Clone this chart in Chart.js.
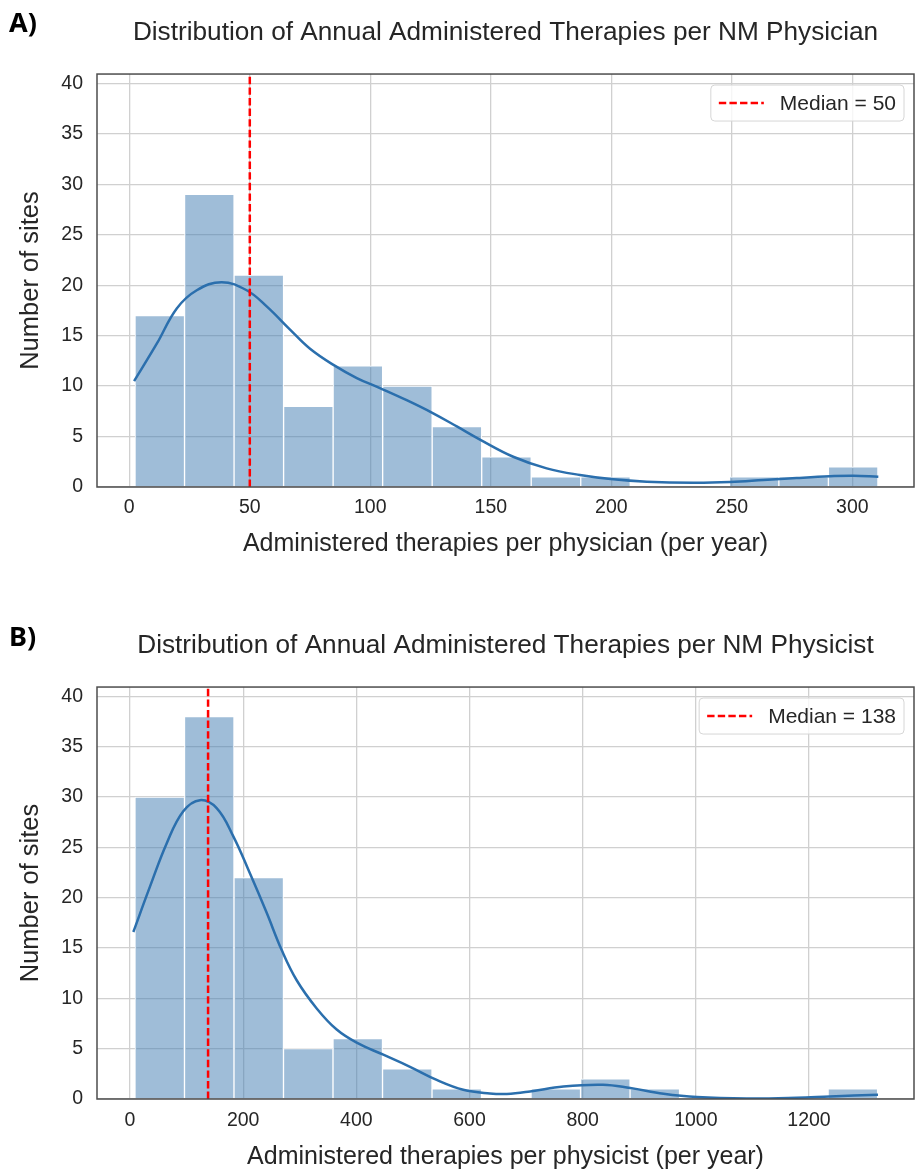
<!DOCTYPE html>
<html>
<head>
<meta charset="utf-8">
<script src="https://cdn.jsdelivr.net/npm/chart.js@4.4.1/dist/chart.umd.min.js"></script>
<style>
  body { margin: 0; background: #ffffff; }
  #pagina { position: relative; width: 915px; height: 1173px; overflow: hidden; }
  .painel { position: absolute; left: 0; }
  .letra { position: absolute; left: 9px; z-index: 2; font: bold 27px 'Noto Sans', sans-serif; color: #000; }
</style>
</head>
<body>
<div id="pagina">
  <canvas id="chartA" class="painel" width="915" height="580" style="top:0"></canvas>
  <canvas id="chartB" class="painel" width="915" height="573" style="top:600px"></canvas>
  <div class="letra" style="top:3px">A)</div>
  <div class="letra" style="top:617px">B)</div>
</div>
<script>
const bordasA = [2.4, 22.9, 43.5, 64.0, 84.6, 105.1, 125.7, 146.2, 166.8, 187.3, 207.9, 228.4, 249.0, 269.5, 290.1, 310.6];
const contagensA = [17, 29, 21, 8, 12, 10, 6, 3, 1, 1, 0, 0, 1, 1, 2];
const kdeXA = [2.0, 11.4, 19.7, 28.0, 38.3, 48.7, 57.0, 66.7, 75.0, 84.7, 94.4, 104, 115.1, 126.1, 135.9, 145.5, 159.3, 173.2, 187, 200.8, 214.7, 234, 249.3, 263.1, 276.9, 290.7, 300.4, 310.8];
const kdeYA = [10.5, 14.2, 17.7, 19.5, 20.3, 19.5, 17.9, 15.6, 13.7, 12.1, 10.8, 9.8, 8.6, 7.3, 6.0, 4.7, 3.0, 1.85, 1.19, 0.76, 0.53, 0.43, 0.5, 0.69, 0.89, 1.06, 1.12, 1.02];
const medianaA = 50;

const bordasB = [8.8, 96.3, 183.8, 271.3, 358.8, 446.3, 533.8, 621.3, 708.8, 796.3, 883.8, 971.3, 1058.8, 1146.3, 1233.8, 1321.3];
const contagensB = [30, 38, 22, 5, 6, 3, 1, 0, 1, 2, 1, 0, 0, 0, 1];
const kdeXB = [5.9, 35.3, 64.8, 94.2, 123.7, 153.2, 182.6, 212.1, 241.6, 268.1, 294.6, 330, 365.3, 400.6, 447.7, 494.9, 542, 589, 636, 666, 707, 766, 836, 884, 943, 1002, 1090, 1178, 1237, 1322];
const kdeYB = [16.6, 21.1, 25.4, 28.6, 29.7, 28.9, 26.1, 22.4, 18.5, 14.8, 11.8, 9.0, 6.9, 5.6, 4.4, 3.2, 1.9, 0.92, 0.55, 0.5, 0.75, 1.25, 1.42, 1.09, 0.53, 0.2, 0.06, 0.13, 0.26, 0.43];
const medianaB = 138;

const fonte = "'Liberation Sans', Arial, sans-serif";
const corTexto = '#262626';
Chart.defaults.font.family = fonte;
Chart.defaults.color = corTexto;

// moldura em volta da area do grafico
const molduraPlugin = {
  id: 'moldura',
  afterDatasetsDraw(chart) {
    const { ctx, chartArea: a } = chart;
    ctx.save();
    ctx.strokeStyle = '#4d4d4d';
    ctx.lineWidth = 1.5;
    ctx.strokeRect(a.left, a.top, a.right - a.left, a.bottom - a.top);
    ctx.restore();
  }
};

// legenda com caixa, igual a do matplotlib
const legendaPlugin = {
  id: 'legendaMediana',
  afterDraw(chart) {
    const ds = chart.data.datasets.find(d => d.mediana);
    const { ctx, chartArea: a } = chart;
    ctx.save();
    ctx.font = '21px ' + fonte;
    const larguraTexto = ctx.measureText(ds.label).width;
    const w = 77 + larguraTexto;
    const h = 36;
    const x = a.right - 10 - w;
    const y = a.top + 11;
    ctx.beginPath();
    ctx.roundRect(x, y, w, h, 4);
    ctx.fillStyle = 'rgba(255,255,255,0.8)';
    ctx.fill();
    ctx.strokeStyle = '#d6d6d6';
    ctx.lineWidth = 1;
    ctx.stroke();
    ctx.beginPath();
    ctx.setLineDash(ds.borderDash);
    ctx.strokeStyle = ds.borderColor;
    ctx.lineWidth = ds.borderWidth;
    ctx.moveTo(x + 8, y + h / 2);
    ctx.lineTo(x + 53, y + h / 2);
    ctx.stroke();
    ctx.setLineDash([]);
    ctx.fillStyle = corTexto;
    ctx.textBaseline = 'middle';
    ctx.fillText(ds.label, x + 69, y + h / 2 + 1);
    ctx.restore();
  }
};

function criarHistograma(id, d) {
  const centros = d.bordas.slice(0, -1).map((b, i) => (b + d.bordas[i + 1]) / 2);

  return new Chart(document.getElementById(id), {
    type: 'bar',
    data: {
      datasets: [
        {
          type: 'bar',
          label: 'Sites',
          data: centros.map((x, i) => ({ x: x, y: d.contagens[i] })),
          backgroundColor: 'rgba(64,124,178,0.5)',
          borderColor: '#ffffff',
          borderWidth: 1,
          categoryPercentage: 1,
          barPercentage: 1,
          order: 3
        },
        {
          type: 'line',
          label: 'KDE',
          data: d.kdeX.map((x, i) => ({ x: x, y: d.kdeY[i] })),
          borderColor: '#2b6fad',
          borderWidth: 2.5,
          pointRadius: 0,
          tension: 0.4,
          fill: false,
          order: 2
        },
        {
          type: 'line',
          label: 'Median = ' + d.mediana,
          mediana: true,
          data: [{ x: d.mediana, y: 0 }, { x: d.mediana, y: d.yMax }],
          borderColor: '#ff0000',
          borderWidth: 2.5,
          borderDash: [7.4, 3.2],
          pointRadius: 0,
          fill: false,
          order: 1
        }
      ]
    },
    options: {
      responsive: false,
      animation: false,
      events: [],
      layout: { padding: { left: 0, right: 1, top: 0, bottom: 0 } },
      plugins: {
        legend: { display: false },
        tooltip: { enabled: false },
        title: {
          display: true,
          text: d.titulo,
          fullSize: false,
          color: corTexto,
          font: { size: 26.2, weight: 'normal' },
          padding: { top: d.tituloTopo, bottom: 25.3 }
        }
      },
      scales: {
        x: {
          type: 'linear',
          min: d.xMin,
          max: d.xMax,
          offset: false,
          grid: { color: '#d0d0d0', lineWidth: 1.3, drawTicks: false, offset: false },
          border: { display: false },
          ticks: {
            stepSize: d.passoX,
            includeBounds: false,
            autoSkip: false,
            maxRotation: 0,
            padding: d.padTickX,
            color: corTexto,
            font: { size: 19.5 },
            callback: v => String(v)
          },
          title: {
            display: true,
            text: d.rotuloX,
            color: corTexto,
            font: { size: 25 },
            padding: { top: 0, bottom: d.padRotuloX }
          },
          afterFit: s => { s.height = d.alturaX; }
        },
        y: {
          min: 0,
          max: d.yMax,
          grid: { color: '#d0d0d0', lineWidth: 1.3, drawTicks: false },
          border: { display: false },
          ticks: {
            stepSize: 5,
            includeBounds: false,
            padding: 14,
            color: corTexto,
            font: { size: 19.5 }
          },
          title: {
            display: true,
            text: 'Number of sites',
            color: corTexto,
            font: { size: 25.5 },
            padding: { top: 16, bottom: 0 }
          },
          afterFit: s => { s.width = 97; }
        }
      }
    },
    plugins: [molduraPlugin, legendaPlugin]
  });
}

criarHistograma('chartA', {
  bordas: bordasA, contagens: contagensA, kdeX: kdeXA, kdeY: kdeYA, mediana: medianaA,
  titulo: 'Distribution of Annual Administered Therapies per NM Physician',
  rotuloX: 'Administered therapies per physician (per year)',
  xMin: -13.4, xMax: 325.6, passoX: 50, yMax: 40.93,
  tituloTopo: 17.3, padTickX: 9, padRotuloX: 21, alturaX: 93
});

criarHistograma('chartB', {
  bordas: bordasB, contagens: contagensB, kdeX: kdeXB, kdeY: kdeYB, mediana: medianaB,
  titulo: 'Distribution of Annual Administered Therapies per NM Physicist',
  rotuloX: 'Administered therapies per physicist (per year)',
  xMin: -58.3, xMax: 1385.6, passoX: 200, yMax: 40.94,
  tituloTopo: 30.3, padTickX: 10, padRotuloX: 1, alturaX: 74
});
</script>
</body>
</html>
